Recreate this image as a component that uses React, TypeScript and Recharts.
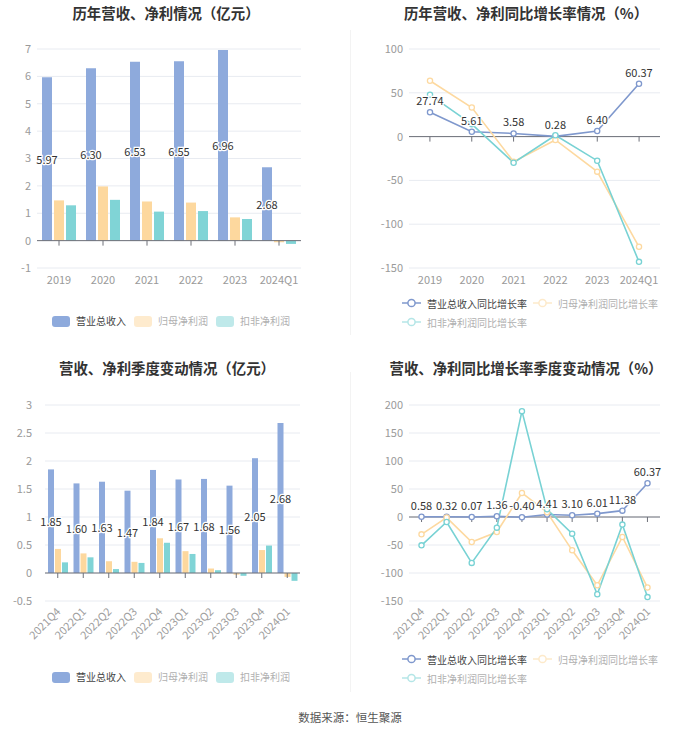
import React from 'react';
import {
  BarChart, Bar, LineChart, Line, XAxis, YAxis, CartesianGrid,
  ReferenceLine, LabelList, Legend,
} from 'recharts';

// ---------- data ----------
const years = ['2019', '2020', '2021', '2022', '2023', '2024Q1'];
const yearRevenue = [5.97, 6.30, 6.53, 6.55, 6.96, 2.68];
const yearNetProfit = [1.47, 1.98, 1.43, 1.39, 0.85, -0.06];
const yearDeductedProfit = [1.29, 1.49, 1.06, 1.08, 0.79, -0.12];

const yearRevenueGrowth = [27.74, 5.61, 3.58, 0.28, 6.40, 60.37];
const yearNetProfitGrowth = [63.7, 33.2, -28.6, -3.8, -40.0, -125.8];
const yearDeductedGrowth = [47.7, 14.2, -29.8, 1.5, -27.5, -143.0];

const quarters = ['2021Q4', '2022Q1', '2022Q2', '2022Q3', '2022Q4', '2023Q1', '2023Q2', '2023Q3', '2023Q4', '2024Q1'];
const qRevenue = [1.85, 1.60, 1.63, 1.47, 1.84, 1.67, 1.68, 1.56, 2.05, 2.68];
const qNetProfit = [0.43, 0.35, 0.21, 0.20, 0.62, 0.39, 0.08, -0.03, 0.41, -0.07];
const qDeducted = [0.19, 0.28, 0.07, 0.18, 0.54, 0.34, 0.05, -0.05, 0.49, -0.14];

const qRevenueGrowth = [0.58, 0.32, 0.07, 1.36, -0.40, 4.41, 3.10, 6.01, 11.38, 60.37];
const qNetProfitGrowth = [-31, -1, -44.6, -26.8, 42.9, 8.5, -59.5, -122, -35.7, -126];
const qDeductedGrowth = [-50.6, -8.9, -82, -19, 189, 13.7, -29.7, -138, -13.6, -143];

const yearAmountTicks = [-1, 0, 1, 2, 3, 4, 5, 6, 7];
const yearGrowthTicks = [-150, -100, -50, 0, 50, 100];
const qAmountTicks = [-0.5, 0, 0.5, 1, 1.5, 2, 2.5, 3];
const qGrowthTicks = [-150, -100, -50, 0, 50, 100, 150, 200];

const amountNames = ['营业总收入', '归母净利润', '扣非净利润'];
const growthNames = ['营业总收入同比增长率', '归母净利润同比增长率', '扣非净利润同比增长率'];

const titles = [
  '历年营收、净利情况（亿元）',
  '历年营收、净利同比增长率情况（%）',
  '营收、净利季度变动情况（亿元）',
  '营收、净利同比增长率季度变动情况（%）',
];
const sourceText = '数据来源：恒生聚源';

// ---------- styles ----------
const FONT = '"Noto Sans CJK SC", "Noto Sans", sans-serif';
const BAR_COLORS = ['#8eaadc', '#fdd89e', '#80d4d6'];
const LINE_COLORS = ['#7f98cd', '#fdd9a0', '#78d2d4'];
const GRID = '#e8ebf1';
const AXIS = '#6e7079';
const TICK = { fill: '#9a9a9a', fontSize: 11, fontFamily: FONT };

const yearBarData = years.map((name, i) => ({
  name, a: yearRevenue[i], b: yearNetProfit[i], c: yearDeductedProfit[i],
}));
const yearLineData = years.map((name, i) => ({
  name, a: yearRevenueGrowth[i], b: yearNetProfitGrowth[i], c: yearDeductedGrowth[i],
}));
const qBarData = quarters.map((name, i) => ({
  name, a: qRevenue[i], b: qNetProfit[i], c: qDeducted[i],
}));
const qLineData = quarters.map((name, i) => ({
  name, a: qRevenueGrowth[i], b: qNetProfitGrowth[i], c: qDeductedGrowth[i],
}));

// ---------- helpers ----------
const labelPos = (props: any) => {
  const vb = props.viewBox || {};
  const x = (vb.x ?? props.x ?? 0) + (vb.width ?? props.width ?? 0) / 2;
  const y = (vb.y ?? props.y ?? 0) + (vb.height ?? props.height ?? 0) / 2;
  return { x, y };
};

const textStyle = {
  fontSize: 11, fill: '#333', stroke: '#fff', strokeWidth: 2.5,
  paintOrder: 'stroke' as any, fontFamily: FONT,
};

const BarCenterLabel = (props: any) => {
  const { x, y } = labelPos(props);
  return (
    <text x={x} y={y} textAnchor="middle" dominantBaseline="central" style={textStyle}>
      {Number(props.value).toFixed(2)}
    </text>
  );
};

const PointTopLabel = (props: any) => {
  const { x, y } = labelPos(props);
  return (
    <text x={x} y={y - 12} textAnchor="middle" dominantBaseline="central" style={textStyle}>
      {Number(props.value).toFixed(2)}
    </text>
  );
};

const zeroAxis = (n: number) => (props: any) => {
  const { x1, y1, x2, y2 } = props;
  const w = x2 - x1;
  return (
    <g>
      <line x1={x1} y1={y1} x2={x2} y2={y2} stroke={AXIS} strokeWidth={1} />
      {Array.from({ length: n }, (_, i) => {
        const x = x1 + ((i + 0.5) * w) / n;
        return <line key={i} x1={x} x2={x} y1={y1} y2={y1 + 5} stroke={AXIS} strokeWidth={1} />;
      })}
    </g>
  );
};

const RotatedTick = (props: any) => {
  const { x, y, payload } = props;
  return (
    <text
      x={x}
      y={y}
      textAnchor="end"
      dominantBaseline="central"
      transform={`rotate(-45, ${x}, ${y})`}
      fill="#a0a0a0"
      fontSize={11}
      fontFamily={FONT}
    >
      {payload.value}
    </text>
  );
};

const BarLegend = () => (
  <div style={{ display: 'flex', alignItems: 'center', fontSize: 10, fontFamily: FONT, height: 14, lineHeight: '14px' }}>
    {amountNames.map((nm, i) => (
      <div key={nm} style={{ display: 'flex', alignItems: 'center', marginRight: 8 }}>
        <span style={{ display: 'inline-block', width: 18, height: 11, borderRadius: 3, background: BAR_COLORS[i], opacity: i === 0 ? 1 : 0.5, marginRight: 6 }} />
        <span style={{ color: i === 0 ? '#444' : '#b0b0b0' }}>{nm}</span>
      </div>
    ))}
  </div>
);

const LineLegend = () => (
  <div style={{ display: 'flex', flexWrap: 'wrap', width: 262, fontSize: 10, fontFamily: FONT, rowGap: 5 }}>
    {growthNames.map((nm, i) => (
      <div key={nm} style={{ display: 'flex', alignItems: 'center', marginRight: 6, height: 14 }}>
        <svg width={19} height={10} style={{ marginRight: 6, opacity: i === 0 ? 1 : 0.55 }}>
          <line x1={0} y1={5} x2={19} y2={5} stroke={LINE_COLORS[i]} strokeWidth={1.5} />
          <circle cx={9.5} cy={5} r={3.6} fill="#fff" stroke={LINE_COLORS[i]} strokeWidth={1.5} />
        </svg>
        <span style={{ color: i === 0 ? '#444' : '#b0b0b0' }}>{nm}</span>
      </div>
    ))}
  </div>
);

const Title = ({ text, cx, cy }: { text: string; cx: number; cy: number }) => (
  <div style={{
    position: 'absolute', left: cx - 175, top: cy - 10, width: 350, height: 20, lineHeight: '20px',
    textAlign: 'center', fontSize: 14.4, fontWeight: 700, color: '#333', fontFamily: FONT,
  }}>{text}</div>
);

const barSeries = (data: any[], withLabels: boolean) =>
  ['a', 'b', 'c'].map((k, i) => (
    <Bar key={k} dataKey={k} name={amountNames[i]} fill={BAR_COLORS[i]} isAnimationActive={false}>
      {i === 0 && withLabels ? <LabelList dataKey={k} content={BarCenterLabel} /> : null}
    </Bar>
  ));

const lineSeries = () =>
  ['a', 'b', 'c'].map((k, i) => (
    <Line
      key={k}
      type="linear"
      dataKey={k}
      name={growthNames[i]}
      stroke={LINE_COLORS[i]}
      strokeWidth={1.6}
      dot={{ r: 2.6, fill: '#fff', stroke: LINE_COLORS[i], strokeWidth: 1.3 }}
      activeDot={false}
      isAnimationActive={false}
    >
      {i === 0 ? <LabelList dataKey={k} content={PointTopLabel} /> : null}
    </Line>
  ));

export default function App() {
  return (
    <div style={{ position: 'absolute', left: 0, top: 0, width: 700, height: 734, background: '#fff', fontFamily: FONT, overflow: 'hidden' }}>
      {/* dividers */}
      <div style={{ position: 'absolute', left: 350, top: 30, width: 1, height: 305, background: '#f3f3f3' }} />
      <div style={{ position: 'absolute', left: 350, top: 372, width: 1, height: 320, background: '#f3f3f3' }} />

      <Title text={titles[0]} cx={166} cy={13} />
      <Title text={titles[1]} cx={526} cy={13} />
      <Title text={titles[2]} cx={167} cy={368} />
      <Title text={titles[3]} cx={526} cy={368} />

      {/* top-left */}
      <div style={{ position: 'absolute', left: 0, top: 0 }}>
        <BarChart width={350} height={340} data={yearBarData} margin={{ top: 49, right: 49, bottom: 42, left: 0 }} barSize={10} barGap={2}>
          <CartesianGrid vertical={false} stroke={GRID} />
          <XAxis dataKey="name" axisLine={false} tickLine={false} tick={TICK} height={30} interval={0} />
          <YAxis domain={[-1, 7]} ticks={yearAmountTicks} axisLine={false} tickLine={false} tick={TICK} width={37} tickMargin={0} interval={0} />
          {barSeries(yearBarData, true)}
          <ReferenceLine y={0} shape={zeroAxis(years.length)} />
          <Legend layout="horizontal" verticalAlign="middle" align="center" wrapperStyle={{ top: 314, left: 52, width: 290 }} content={BarLegend} />
        </BarChart>
      </div>

      {/* top-right */}
      <div style={{ position: 'absolute', left: 350, top: 0 }}>
        <LineChart width={350} height={340} data={yearLineData} margin={{ top: 49, right: 40, bottom: 42, left: 0 }}>
          <CartesianGrid vertical={false} stroke={GRID} />
          <XAxis dataKey="name" axisLine={false} tickLine={false} tick={TICK} height={30} interval={0} padding={{ left: 21, right: 21 }} />
          <YAxis domain={[-150, 100]} ticks={yearGrowthTicks} axisLine={false} tickLine={false} tick={TICK} width={59} tickMargin={0} interval={0} />
          <ReferenceLine y={0} shape={zeroAxis(years.length)} />
          {lineSeries()}
          <Legend layout="horizontal" verticalAlign="middle" align="center" wrapperStyle={{ top: 296, left: 52, width: 270 }} content={LineLegend} />
        </LineChart>
      </div>

      {/* bottom-left */}
      <div style={{ position: 'absolute', left: 0, top: 350 }}>
        <BarChart width={350} height={384} data={qBarData} margin={{ top: 55, right: 50, bottom: 73, left: 0 }} barSize={6} barGap={1}>
          <CartesianGrid vertical={false} stroke={GRID} />
          <XAxis dataKey="name" axisLine={false} tickLine={false} tick={RotatedTick} height={60} interval={0} />
          <YAxis domain={[-0.5, 3]} ticks={qAmountTicks} axisLine={false} tickLine={false} tick={TICK} width={45} tickMargin={7} interval={0} />
          {barSeries(qBarData, true)}
          <ReferenceLine y={0} shape={zeroAxis(quarters.length)} />
          <Legend layout="horizontal" verticalAlign="middle" align="center" wrapperStyle={{ top: 320, left: 52, width: 290 }} content={BarLegend} />
        </BarChart>
      </div>

      {/* bottom-right */}
      <div style={{ position: 'absolute', left: 350, top: 350 }}>
        <LineChart width={350} height={384} data={qLineData} margin={{ top: 55, right: 40, bottom: 73, left: 0 }}>
          <CartesianGrid vertical={false} stroke={GRID} />
          <XAxis dataKey="name" axisLine={false} tickLine={false} tick={RotatedTick} height={60} interval={0} padding={{ left: 12.5, right: 12.5 }} />
          <YAxis domain={[-150, 200]} ticks={qGrowthTicks} axisLine={false} tickLine={false} tick={TICK} width={59} tickMargin={0} interval={0} />
          <ReferenceLine y={0} shape={zeroAxis(quarters.length)} />
          {lineSeries()}
          <Legend layout="horizontal" verticalAlign="middle" align="center" wrapperStyle={{ top: 302, left: 52, width: 270 }} content={LineLegend} />
        </LineChart>
      </div>

      <div style={{ position: 'absolute', left: 0, top: 708, width: 700, textAlign: 'center', fontSize: 11.5, color: '#555', fontFamily: FONT, lineHeight: '18px' }}>
        {sourceText}
      </div>
    </div>
  );
}
